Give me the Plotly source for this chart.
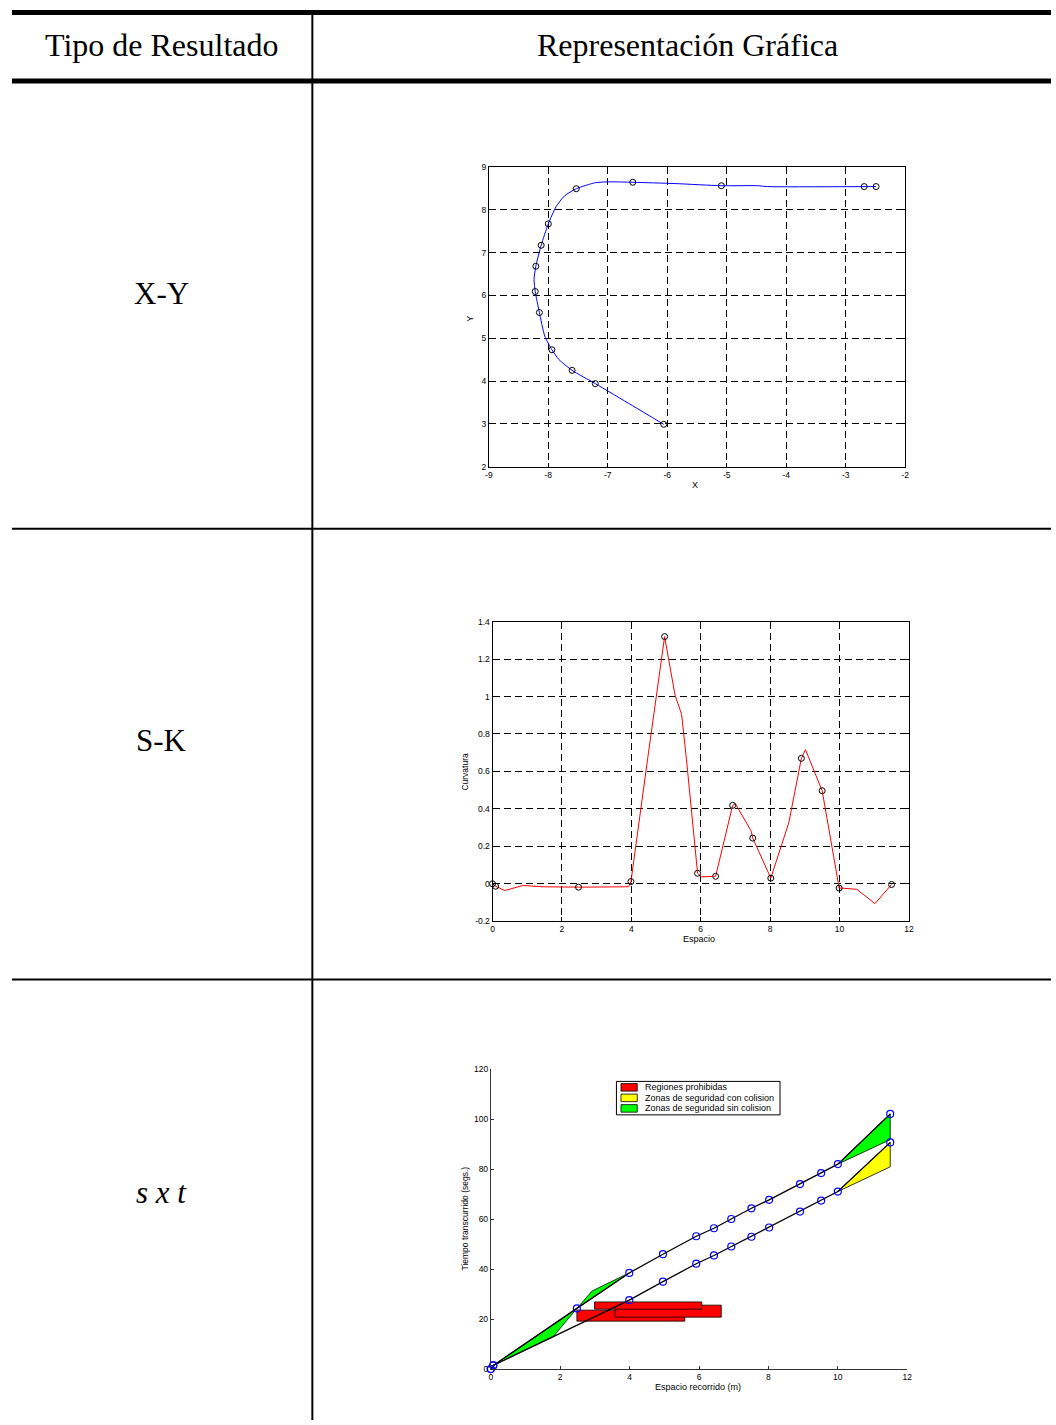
import plotly.graph_objects as go

W, H = 1056, 1425

# ---------------- table text ----------------
header_left = "Tipo de Resultado"
header_right = "Representación Gráfica"
row_labels = ["X-Y", "S-K", "<i>s x t</i>"]

# ---------------- X-Y trajectory ----------------
xy_curve_x = [-6.06, -6.59, -7.21, -7.60, -7.82, -7.94, -8.06, -8.15, -8.22, -8.24,
              -8.21, -8.12, -8.00, -7.87, -7.73, -7.53, -7.21, -6.98, -6.58, -5.87,
              -5.09, -4.48, -4.32, -2.49]
xy_curve_y = [2.99, 3.43, 3.94, 4.25, 4.50, 4.73, 5.05, 5.60, 6.09, 6.37,
              6.68, 7.17, 7.67, 8.07, 8.32, 8.49, 8.63, 8.65, 8.64, 8.61,
              8.56, 8.56, 8.54, 8.54]
xy_pts_x = [-6.06, -7.21, -7.60, -7.94, -8.15, -8.22, -8.21, -8.12, -8.00, -7.53,
            -6.58, -5.09, -2.69, -2.49]
xy_pts_y = [2.99, 3.94, 4.25, 4.73, 5.60, 6.09, 6.68, 7.17, 7.67, 8.49,
            8.64, 8.56, 8.54, 8.54]
xy_xticks = [-9, -8, -7, -6, -5, -4, -3, -2]
xy_xticktext = ["-9", "-8", "-7", "-6", "-5", "-4", "-3", "-2"]
xy_yticks = [2, 3, 4, 5, 6, 7, 8, 9]

# ---------------- S-K curvature ----------------
sk_curve_s = [0.0, 0.09, 0.35, 0.88, 1.45, 2.48, 3.92, 3.99, 4.48, 4.96, 5.26, 5.45,
              5.59, 5.91, 6.02, 6.43, 6.92, 7.00, 7.45, 7.50, 8.02, 8.54, 8.90, 9.02,
              9.50, 9.99, 10.07, 10.50, 11.02, 11.50]
sk_curve_k = [0.0, -0.013, -0.036, -0.009, -0.016, -0.018, -0.016, 0.012, 0.68, 1.32,
              1.008, 0.905, 0.663, 0.056, 0.037, 0.04, 0.419, 0.428, 0.283, 0.244,
              0.03, 0.327, 0.67, 0.716, 0.497, -0.023, -0.023, -0.03, -0.106, -0.004]
sk_pts_s = [0.0, 0.09, 2.48, 3.99, 4.96, 5.91, 6.43, 6.92, 7.50, 8.02, 8.90, 9.50,
            9.99, 11.50]
sk_pts_k = [0.0, -0.013, -0.018, 0.012, 1.32, 0.056, 0.04, 0.419, 0.244, 0.03, 0.67,
            0.497, -0.023, -0.004]
sk_xticks = [0, 2, 4, 6, 8, 10, 12]
sk_yticks = [-0.2, 0, 0.2, 0.4, 0.6, 0.8, 1.0, 1.2, 1.4]
sk_yticktext = ["-0.2", "0", "0.2", "0.4", "0.6", "0.8", "1", "1.2", "1.4"]

# ---------------- s x t diagram ----------------
upper_s = [0.0, 0.07, 2.48, 3.99, 4.96, 5.92, 6.43, 6.93, 7.51, 8.02, 8.91, 9.52, 10.0, 11.51]
upper_t = [0.0, 1.46, 24.3, 38.5, 46.0, 53.2, 56.4, 60.1, 64.4, 67.8, 74.1, 78.5, 82.1, 102.2]
lower_s = [0.0, 0.07, 1.80, 3.99, 4.96, 5.92, 6.43, 6.93, 7.51, 8.02, 8.91, 9.52, 10.0, 11.51]
lower_t = [0.0, 1.46, 13.0, 27.6, 35.0, 42.2, 45.5, 49.1, 53.0, 56.7, 63.1, 67.5, 71.1, 90.8]
upper_pts_s = [0.0, 0.07, 2.48, 3.99, 4.96, 5.92, 6.43, 6.93, 7.51, 8.02, 8.91, 9.52, 10.0, 11.51]
upper_pts_t = [0.0, 1.46, 24.3, 38.5, 46.0, 53.2, 56.4, 60.1, 64.4, 67.8, 74.1, 78.5, 82.1, 102.2]
lower_pts_s = [0.0, 0.07, 3.99, 4.96, 5.92, 6.43, 6.93, 7.51, 8.02, 8.91, 9.52, 10.0, 11.51]
lower_pts_t = [0.0, 1.46, 27.6, 35.0, 42.2, 45.5, 49.1, 53.0, 56.7, 63.1, 67.5, 71.1, 90.8]

# safety zones without collision (green)
green_zones_s = [[0.07, 2.48, 1.80, 0.07],
                 [2.48, 2.92, 3.99, 2.48],
                 [10.0, 11.51, 11.51, 10.0]]
green_zones_t = [[1.46, 24.3, 13.0, 1.46],
                 [24.3, 31.3, 38.5, 24.3],
                 [82.1, 102.2, 91.9, 82.1]]
# safety zone with collision (yellow)
yellow_zone_s = [10.0, 11.51, 11.51, 10.0]
yellow_zone_t = [71.1, 90.8, 81.0, 71.1]
# forbidden regions (red rectangles): s from-to, t from-to
forbidden_s0 = [2.48, 3.58, 2.99]
forbidden_s1 = [5.59, 6.64, 6.08]
forbidden_t0 = [19.2, 20.8, 24.0]
forbidden_t1 = [23.6, 25.6, 26.9]

st_xticks = [0, 2, 4, 6, 8, 10, 12]
st_yticks = [0, 20, 40, 60, 80, 100, 120]
legend_labels = ["Regiones prohibidas", "Zonas de seguridad con colision",
                 "Zonas de seguridad sin colision"]
legend_colors = ["#ff0000", "#ffff00", "#00ff00"]


def px(x):
    return x / W


def py(y):
    return 1 - y / H


SANS = "Liberation Sans, Arial, sans-serif"
SERIF = "Liberation Serif, Times New Roman, serif"

fig = go.Figure()

# --- X-Y ---
fig.add_trace(go.Scatter(x=xy_curve_x, y=xy_curve_y, mode="lines",
                         line=dict(color="#0000ff", width=1, shape="spline", smoothing=0.6),
                         xaxis="x", yaxis="y", showlegend=False))
fig.add_trace(go.Scatter(x=xy_pts_x, y=xy_pts_y, mode="markers",
                         marker=dict(symbol="circle-open", size=6, color="black",
                                     line=dict(width=1)),
                         xaxis="x", yaxis="y", showlegend=False, cliponaxis=False))

# --- S-K ---
fig.add_trace(go.Scatter(x=sk_curve_s, y=sk_curve_k, mode="lines",
                         line=dict(color="#ff0000", width=1),
                         xaxis="x2", yaxis="y2", showlegend=False))
fig.add_trace(go.Scatter(x=sk_pts_s, y=sk_pts_k, mode="markers",
                         marker=dict(symbol="circle-open", size=6, color="black",
                                     line=dict(width=1)),
                         xaxis="x2", yaxis="y2", showlegend=False, cliponaxis=False))

# --- s x t ---
for s0, s1, t0, t1 in zip(forbidden_s0, forbidden_s1, forbidden_t0, forbidden_t1):
    fig.add_trace(go.Scatter(x=[s0, s1, s1, s0, s0], y=[t0, t0, t1, t1, t0],
                             mode="lines", fill="toself", fillcolor=legend_colors[0],
                             line=dict(color="black", width=0.8),
                             xaxis="x3", yaxis="y3", showlegend=False))
for zs, zt in zip(green_zones_s, green_zones_t):
    fig.add_trace(go.Scatter(x=zs, y=zt, mode="lines", fill="toself",
                             fillcolor=legend_colors[2],
                             line=dict(color="black", width=0.8),
                             xaxis="x3", yaxis="y3", showlegend=False))
fig.add_trace(go.Scatter(x=yellow_zone_s, y=yellow_zone_t, mode="lines", fill="toself",
                         fillcolor=legend_colors[1], line=dict(color="black", width=0.8),
                         xaxis="x3", yaxis="y3", showlegend=False))
fig.add_trace(go.Scatter(x=upper_s, y=upper_t, mode="lines",
                         line=dict(color="black", width=1.3),
                         xaxis="x3", yaxis="y3", showlegend=False))
fig.add_trace(go.Scatter(x=lower_s, y=lower_t, mode="lines",
                         line=dict(color="black", width=1.3),
                         xaxis="x3", yaxis="y3", showlegend=False))
for ps, pt in ((upper_pts_s, upper_pts_t), (lower_pts_s, lower_pts_t)):
    fig.add_trace(go.Scatter(x=ps, y=pt, mode="markers",
                             marker=dict(symbol="circle-open", size=7, color="#0000ff",
                                         line=dict(width=1.2)),
                             xaxis="x3", yaxis="y3", showlegend=False, cliponaxis=False))

tickfont = dict(family=SANS, size=8.5, color="black")

boxed = dict(showline=True, linecolor="black", linewidth=1, mirror="ticks",
             ticks="inside", ticklen=4, tickcolor="black", tickwidth=1,
             showgrid=True, gridcolor="black", gridwidth=1, griddash="7px,4px",
             zeroline=False, tickfont=tickfont, fixedrange=True)

open_axes = dict(showline=True, linecolor="#333333", linewidth=1,
                 ticks="inside", ticklen=3, tickcolor="#333333", showgrid=False,
                 zeroline=False, tickfont=tickfont, fixedrange=True)

fig.update_layout(
    width=W, height=H, autosize=False,
    margin=dict(l=0, r=0, t=0, b=0),
    paper_bgcolor="white", plot_bgcolor="white",
    showlegend=False,
    xaxis=dict(domain=[px(489), px(909)], range=[-9, -2], anchor="y",
               tickvals=xy_xticks, ticktext=xy_xticktext, **boxed),
    yaxis=dict(domain=[py(465), py(163)], range=[2, 9], anchor="x",
               tickvals=xy_yticks, **boxed),
    xaxis2=dict(domain=[px(492.7), px(912.7)], range=[0, 12], anchor="y2",
                tickvals=sk_xticks, **boxed),
    yaxis2=dict(domain=[py(922.7), py(621)], range=[-0.2, 1.4], anchor="x2",
                tickvals=sk_yticks, ticktext=sk_yticktext, **boxed),
    xaxis3=dict(domain=[px(491), px(911)], range=[0, 12], anchor="y3",
                tickvals=st_xticks, **open_axes),
    yaxis3=dict(domain=[py(1373.7), py(1072)], range=[0, 120], anchor="x3",
                tickvals=st_yticks, **open_axes),
)

# ---------- table rules ----------
rules = [
    (8, 5, W, 10),        # top thick rule
    (8, 74, W, 79),       # header thick rule
    (8, 526.5, W, 528.5),  # row separator
    (8, 980.5, W, 982.5),  # row separator
    (310, 10, 312, H),    # column separator
]
for x0, y0, x1, y1 in rules:
    fig.add_shape(type="rect", xref="paper", yref="paper",
                  x0=px(x0), x1=px(x1), y0=py(y1), y1=py(y0),
                  fillcolor="black", line=dict(width=0), layer="above")


def text(x, y, s, size, family=SANS, angle=0):
    fig.add_annotation(xref="paper", yref="paper", x=px(x), y=py(y), text=s,
                       showarrow=False, xanchor="center", yanchor="middle",
                       textangle=angle, font=dict(family=family, size=size, color="black"))


text(159, 40, header_left, 32, SERIF)
text(689, 40, header_right, 32, SERIF)
for yy, lab in zip([291, 741, 1196], row_labels):
    text(159, yy, lab, 31, SERIF)

# axis titles
text(697, 483, "X", 9)
text(470, 316, "Y", 9, angle=-90)
text(701, 941, "Espacio", 9)
text(465, 772, "Curvatura", 8.5, angle=-90)
text(700, 1392, "Espacio recorrido (m)", 9)
text(465, 1222, "Tiempo transcurrido (segs.)", 8.5, angle=-90)

# ---------- legend of the s x t diagram ----------
fig.add_shape(type="rect", xref="paper", yref="paper",
              x0=px(617.7), x1=px(782.7), y0=py(1117.7), y1=py(1084),
              fillcolor="white", line=dict(color="black", width=1), layer="above")
for i, (lab, col) in enumerate(zip(legend_labels, legend_colors)):
    yc = 1090 + i * 10.6
    fig.add_shape(type="rect", xref="paper", yref="paper",
                  x0=px(622.3), x1=px(638.7), y0=py(yc + 3.8), y1=py(yc - 3.8),
                  fillcolor=col, line=dict(color="black", width=0.8), layer="above")
    fig.add_annotation(xref="paper", yref="paper", x=px(644.3), y=py(yc), text=lab,
                       showarrow=False, xanchor="left", yanchor="middle",
                       font=dict(family=SANS, size=9, color="black"))

fig.write_html("out.html", post_script="document.body.style.margin='0';")
